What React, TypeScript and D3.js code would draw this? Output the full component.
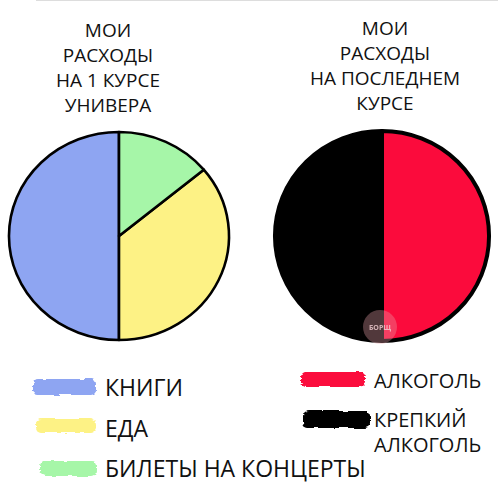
import React, { useEffect, useRef } from 'react';
import * as d3 from 'd3';

// first year spending
const firstCategories = ['КНИГИ', 'ЕДА', 'БИЛЕТЫ НА КОНЦЕРТЫ'];
const firstValues = [50, 36, 14];
const firstColors = ['#8ea5f2', '#fdf285', '#a6f6a8'];

// last year spending
const lastCategories = ['АЛКОГОЛЬ', 'КРЕПКИЙ АЛКОГОЛЬ'];
const lastValues = [50, 50];
const lastColors = ['#fb0b3c', '#000000'];

const firstTitle = ['МОИ', 'РАСХОДЫ', 'НА 1 КУРСЕ', 'УНИВЕРА'];
const lastTitle = ['МОИ', 'РАСХОДЫ', 'НА ПОСЛЕДНЕМ', 'КУРСЕ'];

const W = 498;
const H = 491;
const FONT = '"Open Sans", "Noto Sans", sans-serif';

interface Slice {
  label: string;
  value: number;
  color: string;
}

export default function App() {
  const svgRef = useRef<SVGSVGElement>(null);

  useEffect(() => {
    if (!svgRef.current) return;
    const svg = d3.select(svgRef.current);
    svg.selectAll('*').remove();

    // rough brush filter for legend swatches
    const defs = svg.append('defs');
    const filter = defs.append('filter').attr('id', 'brush')
      .attr('x', '-10%').attr('y', '-30%').attr('width', '120%').attr('height', '160%');
    filter.append('feTurbulence')
      .attr('type', 'fractalNoise').attr('baseFrequency', '0.08 0.5')
      .attr('numOctaves', 2).attr('seed', 3).attr('result', 'noise');
    filter.append('feDisplacementMap')
      .attr('in', 'SourceGraphic').attr('in2', 'noise')
      .attr('scale', 4).attr('xChannelSelector', 'R').attr('yChannelSelector', 'G');

    const toSlices = (cats: string[], vals: number[], cols: string[]): Slice[] =>
      cats.map((c, i) => ({ label: c, value: vals[i], color: cols[i] }));

    const drawPie = (
      slices: Slice[], cx: number, cy: number, rx: number, ry: number,
      strokeW: number, clockwise: boolean
    ) => {
      // from 12 o'clock; counter-clockwise puts the first slice on the left half
      const pie = d3.pie<Slice>().value(d => d.value).sort(null)
        .startAngle(0).endAngle(clockwise ? 2 * Math.PI : -2 * Math.PI);
      const g = svg.append('g')
        .attr('transform', `translate(${cx},${cy}) scale(1,${ry / rx})`);
      const arc = d3.arc<d3.PieArcDatum<Slice>>().innerRadius(0).outerRadius(rx);
      g.selectAll('path.slice')
        .data(pie(slices))
        .enter().append('path')
        .attr('class', 'slice')
        .attr('d', arc)
        .attr('fill', d => d.data.color)
        .attr('stroke', '#000')
        .attr('stroke-width', strokeW)
        .attr('stroke-linejoin', 'round')
        .attr('vector-effect', 'non-scaling-stroke');
      return g;
    };

    drawPie(toSlices(firstCategories, firstValues, firstColors), 119, 236, 110, 104, 2.6, false);
    drawPie(toSlices(lastCategories, lastValues, lastColors), 382, 236, 107, 105, 4, true);

    // watermark
    svg.append('circle')
      .attr('cx', 380).attr('cy', 327).attr('r', 17)
      .attr('fill', '#e8a0a8').attr('opacity', 0.35);
    svg.append('text')
      .attr('x', 380).attr('y', 330)
      .attr('text-anchor', 'middle')
      .style('font-family', FONT).style('font-size', '7px').style('font-weight', 'bold')
      .attr('fill', '#f4d0d4').attr('opacity', 0.8)
      .text('БОРЩ');

    // titles
    const drawTitle = (lines: string[], cx: number, y0: number) => {
      svg.append('g').selectAll('text')
        .data(lines)
        .enter().append('text')
        .attr('x', cx)
        .attr('y', (_, i) => y0 + i * 25)
        .attr('text-anchor', 'middle')
        .style('font-family', FONT)
        .style('font-size', '19px')
        .attr('fill', '#111')
        .text(d => d);
    };
    drawTitle(firstTitle, 108, 37);
    drawTitle(lastTitle, 385, 35);

    // legends
    const swatch = (x: number, y: number, w: number, h: number, color: string) => {
      svg.append('rect')
        .attr('x', x).attr('y', y).attr('width', w).attr('height', h)
        .attr('rx', 5)
        .attr('fill', color)
        .attr('filter', 'url(#brush)');
    };

    const leftRows = [396, 437, 477];
    const leftSw = [[33, 379, 63, 16], [36, 419, 60, 14], [40, 461, 57, 15]];
    firstCategories.forEach((c, i) => {
      const [x, y, w, h] = leftSw[i];
      swatch(x, y, w, h, firstColors[i]);
      svg.append('text')
        .attr('x', 105).attr('y', leftRows[i])
        .style('font-family', FONT).style('font-size', '23px')
        .attr('fill', '#111')
        .text(c);
    });

    const rightSw = [[301, 372, 64, 15], [303, 411, 67, 17]];
    const rightRows = [[388], [427, 452]];
    const rightLines = [['АЛКОГОЛЬ'], ['КРЕПКИЙ', 'АЛКОГОЛЬ']];
    lastCategories.forEach((c, i) => {
      const [x, y, w, h] = rightSw[i];
      swatch(x, y, w, h, lastColors[i]);
      rightLines[i].forEach((line, j) => {
        svg.append('text')
          .attr('x', 374).attr('y', rightRows[i][j])
          .style('font-family', FONT).style('font-size', '20px')
          .attr('fill', '#111')
          .text(line);
      });
    });

    // faint scan line at the top
    svg.append('line')
      .attr('x1', 36).attr('x2', W).attr('y1', 0.5).attr('y2', 0.5)
      .attr('stroke', '#ddd').attr('stroke-width', 1);
  }, []);

  return (
    <svg
      ref={svgRef}
      width={W}
      height={H}
      style={{ position: 'absolute', left: 0, top: 0, background: '#fff', display: 'block' }}
    />
  );
}
